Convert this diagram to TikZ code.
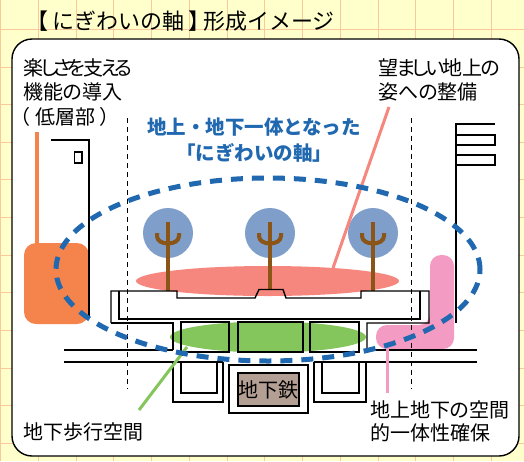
\documentclass[tikz,border=0pt]{standalone}
\usepackage{fontspec}
\setmainfont{Noto Sans CJK JP}
\newfontfamily\jpp[RawFeature=+palt]{Noto Sans CJK JP}
\newfontfamily\jpf{Noto Sans CJK JP}
% narrow kana: trims the side bearings of one kana
\newcommand\nk[2][2.2pt]{\kern-#1#2\kern-#1}
\definecolor{paper}{HTML}{FFFFCC}
\definecolor{gridline}{HTML}{F9C99C}
\definecolor{axisblue}{HTML}{2068B0}
\definecolor{treeblue}{HTML}{7F9FCA}
\definecolor{trunkbrown}{HTML}{8B5517}
\definecolor{salmon}{HTML}{F6877F}
\definecolor{lowfloor}{HTML}{F5834C}
\definecolor{walkgreen}{HTML}{84C65B}
\definecolor{linkpink}{HTML}{F39BC2}
\definecolor{subwayfill}{HTML}{B49F94}
\tikzset{
  struct/.style={draw=black, line width=1.4pt},
  guide/.style={draw=black, line width=0.9pt, dash pattern=on 5pt off 4pt},
  leader/.style={line width=3pt},
  lbl/.style={anchor=base west, inner sep=0pt, font=\jpp\fontsize{20pt}{24pt}\selectfont},
  headline/.style={anchor=base, inner sep=0pt, text=axisblue, font=\jpf\bfseries\fontsize{19.5pt}{24pt}\selectfont},
}
\begin{document}
\begin{tikzpicture}[x=1pt, y=-1pt]
\useasboundingbox (0,0) rectangle (524,461);
% squared paper
\fill[paper] (0,0) rectangle (524,461);
\foreach \i in {0,...,13} \draw[gridline, line width=0.9pt] ({0.6+37.75*\i},0) -- ({0.6+37.75*\i},461);
\foreach \j in {0,...,11} \draw[gridline, line width=0.9pt] (0,{29.3+37.65*\j}) -- (524,{29.3+37.65*\j});

% title
\node[anchor=base west, inner sep=0pt, font=\jpf\fontsize{22pt}{24pt}\selectfont] (title) at (37,29.5)
  {{\jpp 【}\hspace{4pt}にぎわいの軸\hspace{5pt}{\jpp 】}\hspace{3pt}形成イメージ};

% panel
\draw[fill=white, line width=1.4pt, rounded corners=20pt] (12,39) rectangle (519,456);

% left low-rise building
\draw[struct] (51,140) -- (89,140) -- (89,317);
\draw[struct, line width=1.2pt] (74.5,152) rectangle (82,163);
\fill[lowfloor, rounded corners=12pt] (24,243) rectangle (89,324);
\draw[struct] (89,240) -- (89,317);

% right building
\draw[struct] (456,323) -- (456,124) -- (495,124);
\draw[struct] (456,135) rectangle (495,145);
\draw[struct] (456,155) rectangle (495,165);

% pink link between ground and underground
\fill[linkpink, rounded corners=11pt] (430,255) -- (454,255) -- (454,349) -- (376,349) -- (376,325) -- (430,325) -- cycle;
\draw[struct] (456,250) -- (456,323);

% guide lines
\draw[guide] (127,118) -- (127,389);
\draw[guide] (411,118) -- (411,389);

% ground-level open space and trees
\fill[salmon] (267.5,281) ellipse [x radius=131.5pt, y radius=15pt];
\foreach \c/\b in {168/291, 270/289.5, 373/291} {
  \fill[treeblue] (\c,233) circle (25pt);
  \draw[trunkbrown, line width=4.5pt] (\c,222) -- (\c,\b);
  \draw[trunkbrown, line width=4pt] (\c-11,233) -- (\c-11,236) .. controls (\c-11,246) and (\c+11,246) .. (\c+11,236) -- (\c+11,233);
}

% underground walkway
\fill[walkgreen] (268,337) ellipse [x radius=98pt, y radius=15.5pt];

% deck and walls
\draw[struct] (111,323) -- (111,291) -- (177,291) -- (177,298) -- (255,298) -- (259,289.5) -- (283,289.5) -- (286,298) -- (361,298) -- (361,291) -- (429,291) -- (429,323) -- (367,323) -- (367,350);
\draw[struct] (111,323) -- (173,323) -- (173,350);
\draw[struct] (119,291) -- (119,319) -- (420,319) -- (420,291);
\draw[struct] (181,322) rectangle (229,352);
\draw[struct] (238,322) rectangle (303,352);
\draw[struct] (310,322) rectangle (359,352);

% road
\draw[struct] (64,350) -- (173,350);
\draw[struct] (367,350) -- (477,350);
\draw[struct] (64,362) -- (223,362);
\draw[struct] (314,362) -- (477,362);

% lower structures
\draw[struct] (173,362) -- (173,402) -- (223,402) -- (223,362);
\draw[struct] (181,362) rectangle (217,393);
\draw[struct] (314,362) -- (314,402) -- (366,402) -- (366,362);
\draw[struct] (322,362) rectangle (359,393);
\draw[struct] (229,365) rectangle (308,413);
\draw[struct, fill=subwayfill] (238,373) rectangle (299,406);
\node[anchor=base, inner sep=0pt, font=\jpf\fontsize{20pt}{24pt}\selectfont] (subway) at (268.5,397) {地下鉄};

% leaders
\coordinate (lowTop) at (37,132);
\coordinate (lowEnd) at (37,244);
\draw[lowfloor, leader, line width=3.5pt] (lowTop) -- (lowEnd);
\coordinate (surfTop) at (389,107);
\coordinate (surfEnd) at (333,268);
\draw[salmon, leader] (surfTop) -- (surfEnd);
\coordinate (walkStart) at (187,347);
\coordinate (walkEnd) at (139,410);
\draw[walkgreen, leader] (walkStart) -- (walkEnd);
\coordinate (linkStart) at (387,345);
\coordinate (linkEnd) at (387,393);
\draw[linkpink, leader] (linkStart) -- (linkEnd);

% the axis of activity
\draw[axisblue, line width=5pt, dash pattern=on 12pt off 9pt] (268,269.5) ellipse [x radius=212pt, y radius=91.5pt];

% labels
\node[lbl] (low1) at (23,75.6) {楽\nk{し}\nk{さ}\nk{を}支\nk{え}\nk{る}};
\node[lbl] (low2) at (23,99.6) {機能の導入};
\node[lbl] (low3) at (20,124.6) {（\hspace{5pt}{\jpf 低層部}\hspace{5pt}）};
\node[lbl] (surf1) at (378,75.6) {望\nk[1.6pt]{ま}\nk[1.6pt]{し}\nk[1.6pt]{い}地上\nk[1.6pt]{の}};
\node[lbl] (surf2) at (378,99.6) {姿への整備};
\node[headline] (axis1) at (254,134.6) {地上・地下一体となった};
\node[headline] (axis2) at (254,160.6) {「にぎわいの軸」};
\node[lbl] (walk) at (23,439.3) {地下歩行空間};
\node[lbl] (link1) at (370,417.6) {地上地下の空間};
\node[lbl] (link2) at (370,440.9) {的一体性確保};
\end{tikzpicture}
\end{document}
